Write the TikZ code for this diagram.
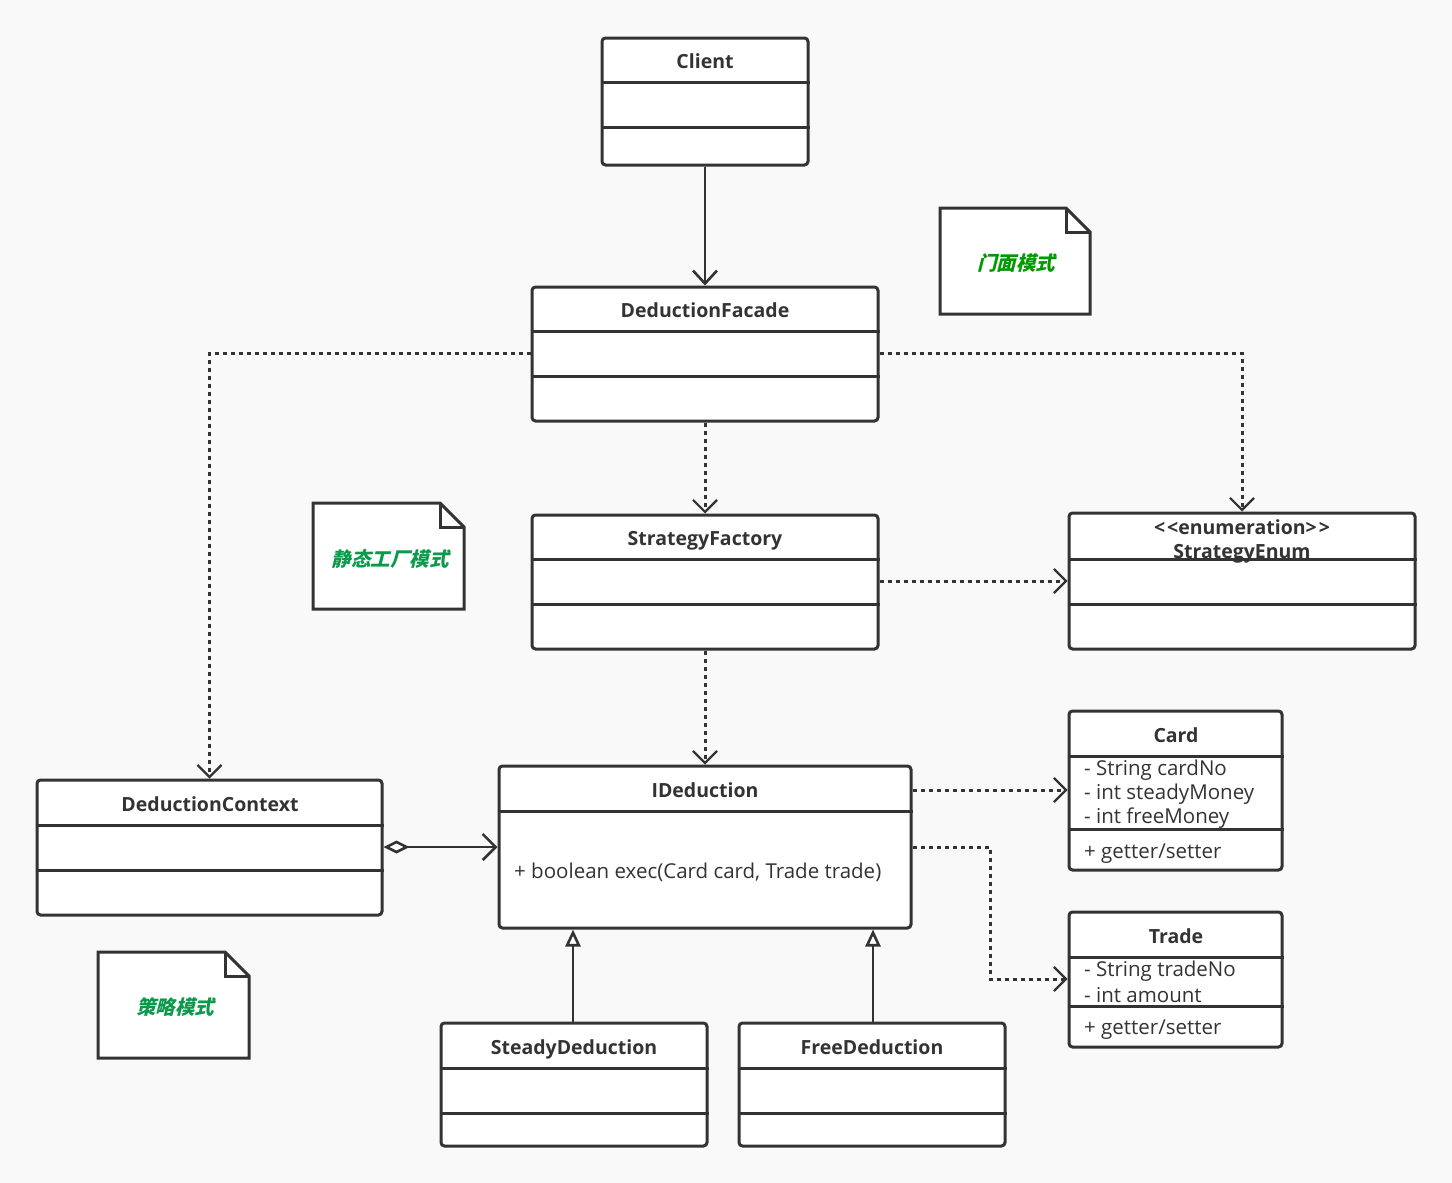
\documentclass[tikz,border=0pt]{standalone}
\usepackage{fontspec}
\setmainfont{Open Sans}
\newfontfamily\cjknote[FakeSlant=0.25]{Noto Sans CJK SC}
\usetikzlibrary{arrows.meta,fit}
\definecolor{bgcol}{HTML}{F9F9F9}
\definecolor{ink}{HTML}{333333}
\definecolor{notegreen}{HTML}{009A00}
\definecolor{notegreenb}{HTML}{0B9A4C}
\tikzset{
  classbox/.style={draw=ink, fill=white, line width=3pt, rounded corners=3.5pt, inner sep=0pt},
  divider/.style={draw=ink, line width=3pt},
  title/.style={font=\bfseries\fontsize{19.5}{22}\selectfont, text=ink, inner sep=0pt,
    text height=14pt, text depth=0pt, anchor=base},
  member/.style={font=\fontsize{20.5}{22}\selectfont, text=ink, inner sep=0pt, anchor=west},
  notebox/.style={draw=ink, fill=white, line width=3pt, line join=miter},
  notetext/.style={font=\cjknote\bfseries\fontsize{19.5}{22}\selectfont, inner sep=0pt},
  solidlink/.style={draw=ink, line width=2.6pt, -{Straight Barb[length=13pt,width=24pt,line width=2.6pt]}},
  deplink/.style={draw=ink, line width=3pt, dash pattern=on 4pt off 4pt,
    -{Straight Barb[length=12pt,width=24pt,line width=2.2pt]}},
  genlink/.style={draw=ink, line width=2.6pt, -{Triangle[open,length=17pt,width=15pt,line width=2.6pt,fill=white]}},
  agglink/.style={draw=ink, line width=2.6pt,
    {Diamond[open,length=26pt,width=13pt,line width=2.6pt,fill=white]}-{Straight Barb[length=13pt,width=26pt,line width=2.6pt]}},
}
% class box: name, x1, y1, x2, y2
\newcommand\classbox[5]{\node[classbox, fit={(#2,#3) (#4,#5)}] (#1) {};}
\newcommand\classdiv[2]{\draw[divider] (#1.west |- 0,#2) -- (#1.east |- 0,#2);}
% note with folded corner: name, x1, y1, x2, y2, colour, text, centre x, centre y
\newcommand\umlnote[9]{%
  \draw[notebox] (#2,#3) -- (#4-24,#3) -- (#4,#3+24) -- (#4,#5) -- (#2,#5) -- cycle;
  \draw[notebox, fill=none] (#4-24,#3) -- (#4-24,#3+24) -- (#4,#3+24);
  \node[notetext, text=#6] (#1) at (#8,#9) {#7};}
\begin{document}
\begin{tikzpicture}[x=1pt,y=-1pt]
\fill[bgcol] (0,0) rectangle (1452,1183);
\useasboundingbox (0,0) rectangle (1452,1183);

% classes (title nodes are placed on their baselines)
\classbox{client}{602}{38}{808}{165}
\classdiv{client}{82}\classdiv{client}{127}
\node[title] at (705,68) {Client};

\classbox{facade}{532}{287}{878}{421}
\classdiv{facade}{331}\classdiv{facade}{376}
\node[title] at (705,317) {DeductionFacade};

\classbox{factory}{532}{515}{878}{649}
\classdiv{factory}{559}\classdiv{factory}{604}
\node[title] at (705,545) {StrategyFactory};

\classbox{senum}{1069}{513}{1415}{649}
\classdiv{senum}{559}\classdiv{senum}{604}
\node[title] at (1242,534) {<\kern2pt<enumeration>\kern2pt>};
\node[title] at (1242,558) {StrategyEnum};

\classbox{card}{1069}{711}{1282}{870}
\classdiv{card}{756}\classdiv{card}{829}
\node[title] at (1176,742) {Card};
\node[member] at (1084,770) {- String cardNo};
\node[member] at (1084,794) {- int steadyMoney};
\node[member] at (1084,818) {- int freeMoney};
\node[member] at (1084,854) {+ getter/setter};

\classbox{trade}{1069}{912}{1282}{1047}
\classdiv{trade}{957}\classdiv{trade}{1006}
\node[title] at (1176,943) {Trade};
\node[member] at (1084,971) {- String tradeNo};
\node[member] at (1084,995) {- int amount};
\node[member] at (1084,1030) {+ getter/setter};

\classbox{ided}{499}{766}{911}{928}
\classdiv{ided}{811}
\node[title] at (705,797) {IDeduction};
\node[member] at (514,872) {+ boolean exec(Card card, Trade trade)};

\classbox{context}{37}{780}{382}{915}
\classdiv{context}{825}\classdiv{context}{870}
\node[title] at (210,811) {DeductionContext};

\classbox{steady}{441}{1023}{707}{1146}
\classdiv{steady}{1068}\classdiv{steady}{1113}
\node[title] at (574,1054) {SteadyDeduction};

\classbox{free}{739}{1023}{1005}{1146}
\classdiv{free}{1068}\classdiv{free}{1113}
\node[title] at (872,1054) {FreeDeduction};

% notes
\umlnote{facadenote}{940}{208}{1090}{314}{notegreen}{门面模式}{1016}{263}
\umlnote{factorynote}{313}{503}{464}{609}{notegreenb}{静态工厂模式}{390}{559}
\umlnote{strategynote}{98}{952}{249}{1058}{notegreenb}{策略模式}{175}{1007}

% relations
\coordinate (facadeL) at (facade.west |- 0,353);
\coordinate (facadeR) at (facade.east |- 0,353);
\coordinate (idedR1) at (ided.east |- 0,790);
\coordinate (idedR2) at (ided.east |- 0,847);
\coordinate (contextR) at (context.east |- 0,847);

\draw[solidlink] (client.south) -- (facade.north);
\draw[deplink] (facadeL) -| (context.north);
\draw[deplink] (facadeR) -| (senum.north);
\draw[deplink] (facade.south) -- (factory.north);
\draw[deplink] (factory.east |- 0,581) -- (senum.west |- 0,581);
\draw[deplink] (factory.south) -- (ided.north);
\draw[deplink] (idedR1) -- (card.west |- idedR1);
\draw[deplink] (idedR2) -- (990,847) |- (trade.west |- 0,979);
\draw[agglink] (contextR) -- (ided.west |- contextR);
\draw[genlink] (steady.north -| 573,0) -- (ided.south -| 573,0);
\draw[genlink] (free.north -| 873,0) -- (ided.south -| 873,0);
\end{tikzpicture}
\end{document}
